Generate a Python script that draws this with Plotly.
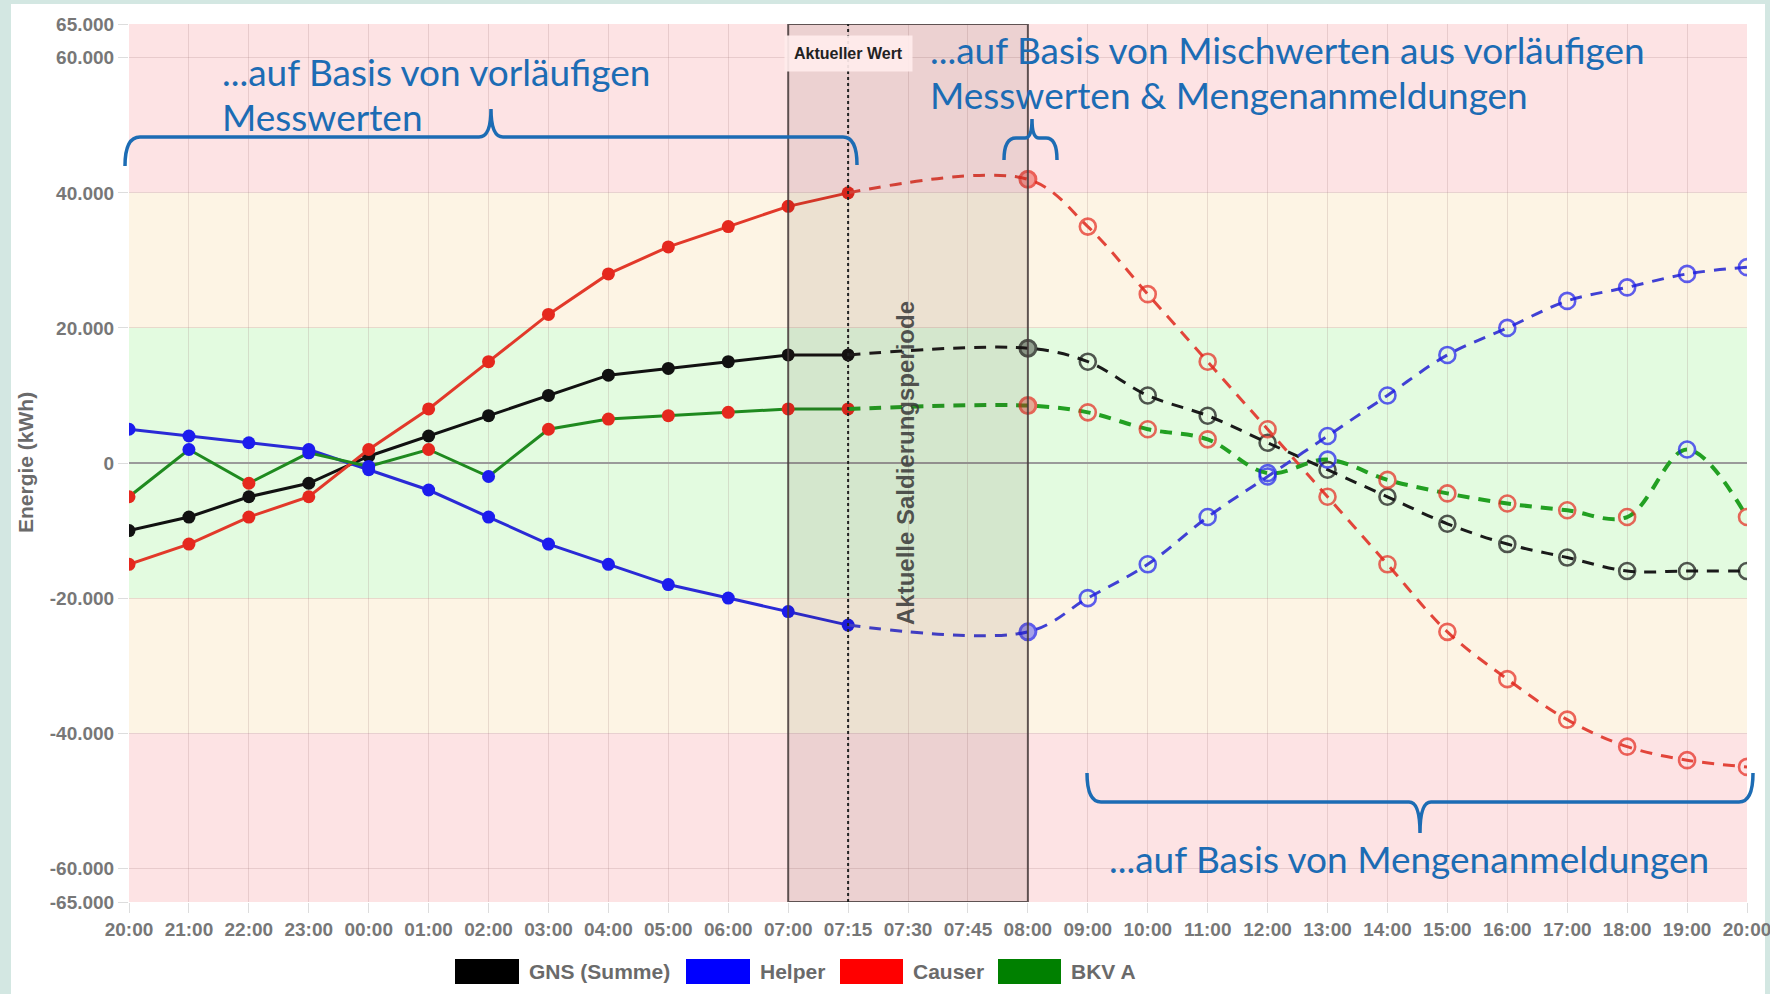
import plotly.graph_objects as go

# ---------------- data ----------------
x_labels = ["20:00", "21:00", "22:00", "23:00", "00:00", "01:00", "02:00", "03:00",
            "04:00", "05:00", "06:00", "07:00", "07:15", "07:30", "07:45", "08:00",
            "09:00", "10:00", "11:00", "12:00", "13:00", "14:00", "15:00", "16:00",
            "17:00", "18:00", "19:00", "20:00"]
N = None
gns = [-10000, -8000, -5000, -3000, 1000, 4000, 7000, 10000, 13000, 14000, 15000, 16000,
       16000, N, N, 17000, 15000, 10000, 7000, 3000, -1000, -5000, -9000, -12000,
       -14000, -16000, -16000, -16000]
helper = [5000, 4000, 3000, 2000, -1000, -4000, -8000, -12000, -15000, -18000, -20000, -22000,
          -24000, N, N, -25000, -20000, -15000, -8000, -2000, 4000, 10000, 16000, 20000,
          24000, 26000, 28000, 29000]
causer = [-15000, -12000, -8000, -5000, 2000, 8000, 15000, 22000, 28000, 32000, 35000, 38000,
          40000, N, N, 42000, 35000, 25000, 15000, 5000, -5000, -15000, -25000, -32000,
          -38000, -42000, -44000, -45000]
bkv_a = [-5000, 2000, -3000, 1500, -500, 2000, -2000, 5000, 6500, 7000, 7500, 8000,
         8000, N, N, 8500, 7500, 5000, 3500, -1500, 500, -2500, -4500, -6000,
         -7000, -8000, 2000, -8000]
# role of BKV A at each time: "C" = Causer (red marker), "H" = Helper (blue marker)
bkv_role = ["C", "H", "C", "H", "H", "C", "H", "C", "C", "C", "C", "C",
            "C", N, N, "C", "C", "C", "C", "H", "H", "C", "C", "C",
            "C", "C", "H", "C"]

series_names = ["GNS (Summe)", "Helper", "Causer", "BKV A"]
legend_colors = ["#000000", "#0000ff", "#ff0000", "#008000"]
y_ticks = [-65000, -60000, -40000, -20000, 0, 20000, 40000, 60000, 65000]
y_ticktext = ["-65.000", "-60.000", "-40.000", "-20.000", "0", "20.000", "40.000", "60.000", "65.000"]

last_measured = 12   # 07:15
period_start, period_end = 11, 15   # 07:00 .. 08:00

# ---------------- geometry helpers ----------------
W_FIG, H_FIG = 1770, 994
L, R, T, B = 129, 1747, 24, 902
PW, PH = R - L, B - T


def px(x):
    return (x - L) / PW


def py(y):
    return (B - y) / PH


xs = list(range(len(x_labels)))

RED_M = "#e5281e"
BLUE_M = "#1c1cee"
role_col = {"C": RED_M, "H": BLUE_M}

series = [
    dict(vals=gns, line="#111111", dline="#1a1a1a", mcol=["#111111"] * len(xs), dash_w=3),
    dict(vals=helper, line="#2a2ad6", dline="#4040d4", mcol=[BLUE_M] * len(xs), dash_w=3),
    dict(vals=causer, line="#e2392a", dline="#e2453a", mcol=[RED_M] * len(xs), dash_w=3),
    dict(vals=bkv_a, line="#1f8a1f", dline="#22a022",
         mcol=[role_col[r] if r else "#000" for r in bkv_role], dash_w=4),
]


def rgba(hexc, a):
    h = hexc.lstrip("#")
    return "rgba(%d,%d,%d,%.2f)" % (int(h[0:2], 16), int(h[2:4], 16), int(h[4:6], 16), a)


fig = go.Figure()

for s in series:
    v = s["vals"]
    # measured part (solid)
    xi = xs[:last_measured + 1]
    fig.add_trace(go.Scatter(
        x=xi, y=v[:last_measured + 1], mode="lines+markers",
        line=dict(color=s["line"], width=3),
        marker=dict(size=13, color=s["mcol"][:last_measured + 1], line=dict(width=0)),
        showlegend=False, hoverinfo="skip"))
    # forecast part (dashed)
    xd = xs[last_measured:]
    vd = v[last_measured:]
    cols = s["mcol"][last_measured:]
    sizes, fills, lws = [], [], []
    for k, i in enumerate(xd):
        c = cols[k]
        if i == last_measured:
            sizes.append(0); fills.append(rgba(c, 0)); lws.append(0)
        elif i == period_end:
            sizes.append(16); fills.append(rgba(c, 0.55)); lws.append(3)
        else:
            sizes.append(16); fills.append("rgba(0,0,0,0)"); lws.append(2.6)
    fig.add_trace(go.Scatter(
        x=xd, y=vd, mode="lines+markers", connectgaps=True,
        line=dict(color=s["dline"], width=s["dash_w"], dash="12px,9px", shape="spline"),
        marker=dict(size=sizes, color=fills, line=dict(width=lws, color=cols)),
        showlegend=False, hoverinfo="skip"))

shapes = []
# white card on teal background
shapes.append(dict(type="rect", xref="paper", yref="paper", x0=px(11), x1=px(1765),
                   y0=py(H_FIG + 20), y1=py(4), fillcolor="white", line=dict(width=0), layer="below"))
# value bands
bands = [(40000, 65000, "#fde3e4"), (20000, 40000, "#fdf4e4"), (-20000, 20000, "#e3fbe0"),
         (-40000, -20000, "#fdf4e4"), (-65000, -40000, "#fde3e4")]
for y0, y1, c in bands:
    shapes.append(dict(type="rect", xref="x", yref="y", x0=0, x1=len(xs) - 1, y0=y0, y1=y1,
                       fillcolor=c, line=dict(width=0), layer="below"))
# current settlement period
shapes.append(dict(type="rect", xref="x", yref="y", x0=period_start, x1=period_end,
                   y0=-65000, y1=65000, fillcolor="rgba(70,35,25,0.09)",
                   line=dict(color="rgba(70,60,60,0.85)", width=2), layer="above"))
shapes.append(dict(type="line", xref="x", yref="y", x0=last_measured, x1=last_measured,
                   y0=-65000, y1=65000, line=dict(color="#222", width=2, dash="dot"), layer="above"))


def ppath(pts):
    out = []
    for cmd, coords in pts:
        cs = []
        for j in range(0, len(coords), 2):
            cs.append("%.5f,%.5f" % (px(coords[j]), py(coords[j + 1])))
        out.append(cmd + " " + " ".join(cs))
    return " ".join(out)


BRACE = "#1c6cb4"
brace1 = ppath([("M", (125, 166)), ("Q", (125, 137, 140, 137)), ("L", (479, 137)),
                ("Q", (491, 137, 491, 109)), ("Q", (491, 137, 503, 137)), ("L", (843, 137)),
                ("Q", (857, 137, 857, 165))])
brace2 = ppath([("M", (1004, 160)), ("Q", (1004, 138, 1016, 138)), ("L", (1025, 138)),
                ("Q", (1032, 138, 1032, 119)), ("Q", (1032, 138, 1039, 138)), ("L", (1046, 138)),
                ("Q", (1057, 138, 1057, 160))])
brace3 = ppath([("M", (1087, 773)), ("Q", (1087, 802, 1101, 802)), ("L", (1409, 802)),
                ("Q", (1420, 802, 1420, 833)), ("Q", (1420, 802, 1431, 802)), ("L", (1739, 802)),
                ("Q", (1753, 802, 1753, 773))])
for p in (brace1, brace2, brace3):
    shapes.append(dict(type="path", xref="paper", yref="paper", path=p,
                       line=dict(color=BRACE, width=3.5), layer="above"))

# custom legend (wide colour boxes)
leg_boxes = [(455, 519), (686, 750), (840, 903), (998, 1061)]
for (x0, x1), c in zip(leg_boxes, legend_colors):
    shapes.append(dict(type="rect", xref="paper", yref="paper", x0=px(x0), x1=px(x1),
                       y0=py(984), y1=py(959), fillcolor=c, line=dict(width=0)))

ann = []
TXT_FONT = dict(family="Lato, 'Open Sans', sans-serif", size=37, color="#1c6cb4")
for txt, x, y in [("...auf Basis von vorläufigen", 220, 71),
                  ("Messwerten", 220, 117),
                  ("...auf Basis von Mischwerten aus vorläufigen", 928, 50),
                  ("Messwerten &amp; Mengenanmeldungen", 928, 95),
                  ("...auf Basis von Mengenanmeldungen", 1107, 858)]:
    ann.append(dict(text=txt, xref="paper", yref="paper", x=px(x), y=py(y),
                    xanchor="left", yanchor="middle", showarrow=False, font=TXT_FONT))

for (x0, x1), name in zip(leg_boxes, series_names):
    ann.append(dict(text=name, xref="paper", yref="paper", x=px(x1 + 8), y=py(971),
                    xanchor="left", yanchor="middle", showarrow=False,
                    font=dict(family="Liberation Sans, Arial, sans-serif", size=21,
                              color="#6a6a6a", weight="bold")))

ann.append(dict(text="Energie (kWh)", xref="paper", yref="paper", x=px(25), y=py(463),
                xanchor="center", yanchor="middle", textangle=-90, showarrow=False,
                font=dict(family="Liberation Sans, Arial, sans-serif", size=21,
                          color="#6a6a6a", weight="bold")))
ann.append(dict(text="Aktueller Wert", xref="x", yref="paper", x=last_measured, y=py(53),
                xanchor="center", yanchor="middle", showarrow=False,
                bgcolor="rgba(255,236,236,0.92)", borderpad=9,
                font=dict(family="Liberation Sans, Arial, sans-serif", size=16,
                          color="#222", weight="bold")))
ann.append(dict(text="Aktuelle Saldierungsperiode", xref="x", yref="y", x=12.95, y=0,
                xanchor="center", yanchor="middle", textangle=-90, showarrow=False,
                font=dict(family="Liberation Sans, Arial, sans-serif", size=24,
                          color="rgba(55,55,55,0.85)", weight="bold")))

tick_font = dict(family="Liberation Sans, Arial, sans-serif", size=19, color="#777", weight="bold")
fig.update_layout(
    width=W_FIG, height=H_FIG,
    margin=dict(l=L, r=W_FIG - R, t=T, b=H_FIG - B, autoexpand=False),
    paper_bgcolor="#d3e7e2", plot_bgcolor="rgba(0,0,0,0)",
    showlegend=False, shapes=shapes, annotations=ann,
    xaxis=dict(range=[0, len(xs) - 1], tickmode="array", tickvals=xs, ticktext=x_labels,
               showgrid=True, gridcolor="rgba(150,110,110,0.2)", gridwidth=1,
               ticks="outside", ticklen=10, tickcolor="#ddd", tickfont=tick_font,
               ticklabeloverflow="allow",
               zeroline=False, showline=False, fixedrange=True),
    yaxis=dict(range=[-65000, 65000], tickmode="array", tickvals=y_ticks, ticktext=y_ticktext,
               showgrid=True, gridcolor="rgba(150,110,110,0.2)", gridwidth=1,
               ticks="outside", ticklen=10, tickcolor="#ddd", tickfont=tick_font,
               zeroline=True, zerolinecolor="#9a9a9a", zerolinewidth=2,
               showline=False, fixedrange=True),
)

fig.write_html("out.html", config={"displayModeBar": False},
               post_script="document.body.style.margin='0px';document.body.style.overflow='hidden';")
